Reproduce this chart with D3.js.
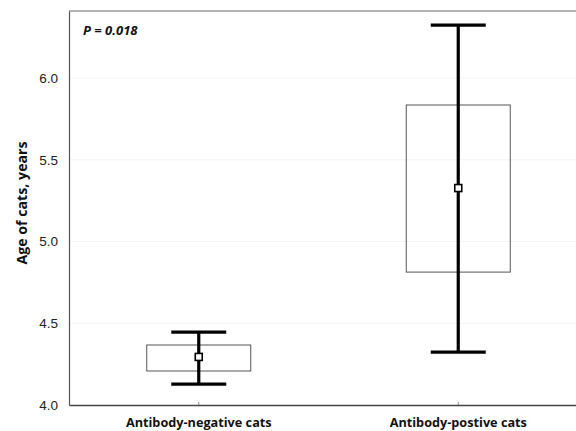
<!DOCTYPE html>
<html>
<head>
<meta charset="utf-8">
<script src="https://cdn.jsdelivr.net/npm/d3@7"></script>
<style>
  body { margin: 0; background: #fff; }
  svg { display: block; }
</style>
</head>
<body>
<svg id="chart" width="576" height="431"></svg>
<script>
// data
const groups = ["Antibody-negative cats", "Antibody-postive cats"];
const means = [4.294, 5.327];
const boxLow = [4.208, 4.813];
const boxHigh = [4.367, 5.835];
const errLow = [4.128, 4.324];
const errHigh = [4.446, 6.324];
const yTicks = [4.0, 4.5, 5.0, 5.5, 6.0];

const svg = d3.select("#chart");
const margin = { left: 69, top: 11, right: -12, bottom: 26 };
const W = 576, H = 431;

const x = d3.scaleBand()
            .domain(groups)
            .range([margin.left, W - margin.right]);
const y = d3.scaleLinear()
            .domain([4.0, 6.41])
            .range([H - margin.bottom, margin.top]);

// faint grid lines
svg.append("g")
  .selectAll("line")
  .data(yTicks.slice(1))
  .join("line")
  .attr("x1", margin.left).attr("x2", W)
  .attr("y1", d => y(d)).attr("y2", d => y(d))
  .attr("stroke", "#f4f4f4");

// y axis
const yAxis = svg.append("g")
  .attr("transform", `translate(${margin.left},0)`)
  .call(d3.axisLeft(y).tickValues(yTicks).tickFormat(d3.format(".1f")).tickSize(0).tickPadding(11));
yAxis.select(".domain").attr("stroke", "#555").attr("stroke-width", 1.2);
yAxis.selectAll("text")
  .attr("font-family", "Liberation Sans, Arial, sans-serif")
  .attr("font-size", 13.5)
  .attr("fill", "#222");

// x axis
const xAxis = svg.append("g")
  .attr("transform", `translate(0,${H - margin.bottom})`)
  .call(d3.axisBottom(x).tickSizeInner(-3).tickSizeOuter(0).tickPadding(13));
xAxis.select(".domain").attr("stroke", "#444").attr("stroke-width", 1.3);
xAxis.selectAll(".tick line").attr("stroke", "#888");
xAxis.selectAll("text")
  .attr("font-family", "Open Sans, sans-serif")
  .attr("font-weight", "bold")
  .attr("font-size", 12.7)
  .attr("fill", "#111");

// top frame line
svg.append("line")
  .attr("x1", margin.left).attr("x2", W)
  .attr("y1", margin.top).attr("y2", margin.top)
  .attr("stroke", "#666").attr("stroke-width", 1.2);

// y axis title
svg.append("text")
  .attr("transform", "translate(27,203) rotate(-90)")
  .attr("text-anchor", "middle")
  .attr("font-family", "Open Sans, sans-serif")
  .attr("font-weight", "bold")
  .attr("font-size", 14.2)
  .attr("fill", "#111")
  .text("Age of cats, years");

// p value
svg.append("text")
  .attr("x", 83).attr("y", 35)
  .attr("font-family", "Open Sans, sans-serif")
  .attr("font-weight", "bold")
  .attr("font-style", "italic")
  .attr("font-size", 13)
  .attr("fill", "#111")
  .text("P = 0.018");

const boxW = 104, capW = 55;
const cx = i => x(groups[i]) + x.bandwidth() / 2;
const idx = d3.range(groups.length);

// boxes
svg.append("g")
  .selectAll("rect")
  .data(idx)
  .join("rect")
  .attr("x", i => cx(i) - boxW / 2)
  .attr("width", boxW)
  .attr("y", i => y(boxHigh[i]))
  .attr("height", i => y(boxLow[i]) - y(boxHigh[i]))
  .attr("fill", "none")
  .attr("stroke", "#555")
  .attr("stroke-width", 1);

// error bars
const err = svg.append("g").attr("stroke", "#000").attr("stroke-width", 3.2);
err.selectAll(".stem")
  .data(idx)
  .join("line")
  .attr("class", "stem")
  .attr("x1", cx).attr("x2", cx)
  .attr("y1", i => y(errHigh[i])).attr("y2", i => y(errLow[i]));
err.selectAll(".capHi")
  .data(idx)
  .join("line")
  .attr("class", "capHi")
  .attr("x1", i => cx(i) - capW / 2).attr("x2", i => cx(i) + capW / 2)
  .attr("y1", i => y(errHigh[i])).attr("y2", i => y(errHigh[i]));
err.selectAll(".capLo")
  .data(idx)
  .join("line")
  .attr("class", "capLo")
  .attr("x1", i => cx(i) - capW / 2).attr("x2", i => cx(i) + capW / 2)
  .attr("y1", i => y(errLow[i])).attr("y2", i => y(errLow[i]));

// mean markers
svg.append("g")
  .selectAll("rect")
  .data(idx)
  .join("rect")
  .attr("x", i => cx(i) - 3.5)
  .attr("y", i => y(means[i]) - 3.5)
  .attr("width", 7).attr("height", 7)
  .attr("fill", "#fff")
  .attr("stroke", "#000")
  .attr("stroke-width", 1.6);
</script>
</body>
</html>
